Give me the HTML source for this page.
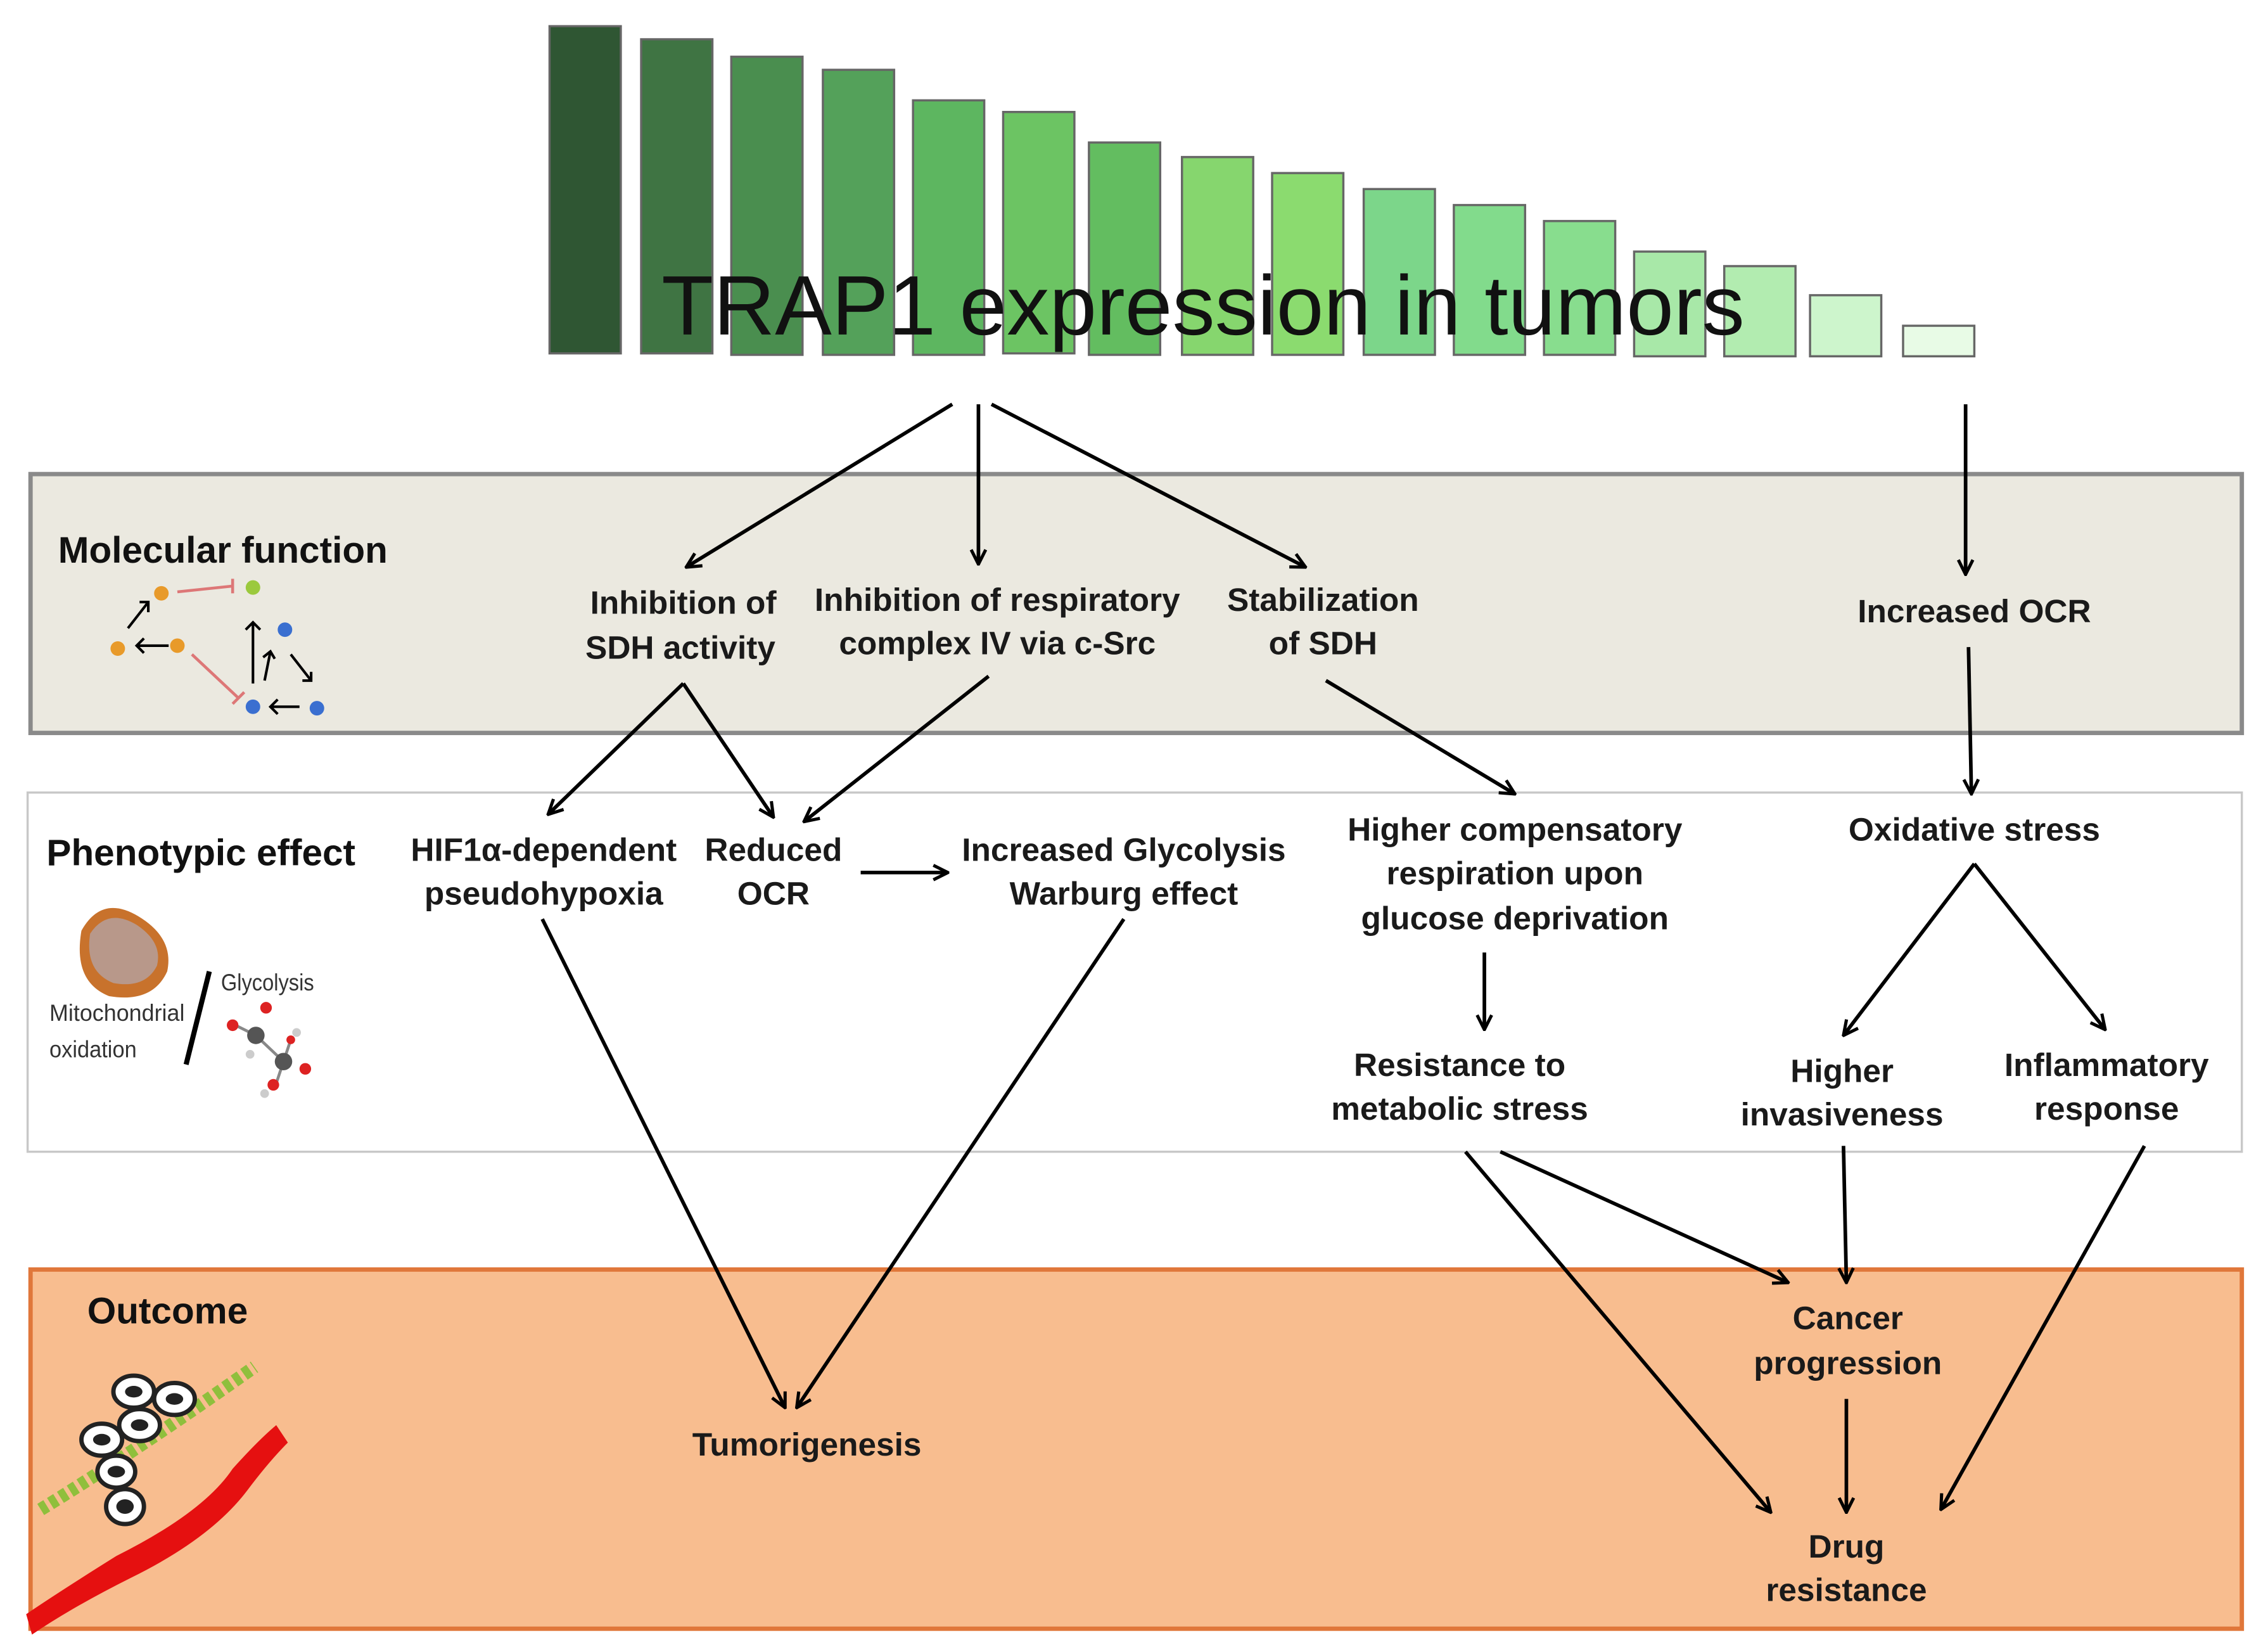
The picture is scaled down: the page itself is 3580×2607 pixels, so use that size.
<!DOCTYPE html>
<html><head><meta charset="utf-8"><style>
html,body{margin:0;padding:0;background:#fff;}
svg{display:block;}
text{font-family:"Liberation Sans",sans-serif;}
.l{font-size:22.4px;font-weight:bold;fill:#1a1a1a;text-anchor:middle;}
.h{font-size:25.5px;font-weight:bold;fill:#111;}
</style></head><body>
<svg width="3580" height="2607" viewBox="0 0 1560 1136" xmlns="http://www.w3.org/2000/svg">
<defs>
<marker id="a" viewBox="0 0 12 12" refX="11" refY="6" markerWidth="12" markerHeight="12" markerUnits="userSpaceOnUse" orient="auto">
<path d="M1,1 L11,6 L1,11" fill="none" stroke="#000" stroke-width="2.2"/>
</marker>
</defs>
<rect width="1560" height="1136" fill="#fff"/>
<g stroke="#666" stroke-width="1.5">
<rect x="378" y="18" width="49" height="225" fill="#2f5633"/>
<rect x="441" y="27" width="49" height="216" fill="#3f7443"/>
<rect x="503" y="39" width="49" height="205" fill="#4a8e4f"/>
<rect x="566" y="48" width="49" height="196" fill="#54a15a"/>
<rect x="628" y="69" width="49" height="175" fill="#5db660"/>
<rect x="690" y="77" width="49" height="166" fill="#6cc463"/>
<rect x="749" y="98" width="49" height="146" fill="#63bd60"/>
<rect x="813" y="108" width="49" height="136" fill="#86d66e"/>
<rect x="875" y="119" width="49" height="125" fill="#8bdb6f"/>
<rect x="938" y="130" width="49" height="114" fill="#7cd68a"/>
<rect x="1000" y="141" width="49" height="103" fill="#82db8c"/>
<rect x="1062" y="152" width="49" height="92" fill="#88dd8e"/>
<rect x="1124" y="173" width="49" height="72" fill="#a8e8a8"/>
<rect x="1186" y="183" width="49" height="62" fill="#b2ecb0"/>
<rect x="1245" y="203" width="49" height="42" fill="#cdf5cc"/>
<rect x="1309" y="224" width="49" height="21" fill="#e8fbe6"/>
</g>
<text x="455" y="230" font-size="58" fill="#111" textLength="745" lengthAdjust="spacingAndGlyphs" style="font-family:'Liberation Sans Narrow','Liberation Sans',sans-serif">TRAP1 expression in tumors</text>

<rect x="21" y="326" width="1521" height="178" fill="#ebe9e0" stroke="#8a8a8a" stroke-width="3"/>
<rect x="19" y="545" width="1523" height="247" fill="#fff" stroke="#c8c8c8" stroke-width="1.5"/>
<rect x="21" y="873" width="1521" height="247" fill="#f8bd8f" stroke="#e0773a" stroke-width="3"/>

<text class="h" x="40" y="387">Molecular function</text>
<text class="h" x="32" y="595">Phenotypic effect</text>
<text class="h" x="60" y="910">Outcome</text>

<g>
<line x1="122" y1="407" x2="160" y2="403" stroke="#d77" stroke-width="2"/><line x1="160" y1="398" x2="160" y2="408" stroke="#d77" stroke-width="2"/>
<line x1="132" y1="450" x2="164" y2="480" stroke="#d77" stroke-width="2"/><line x1="160" y1="484" x2="168" y2="476" stroke="#d77" stroke-width="2"/>
<g stroke="#000" stroke-width="1.8" fill="none">
<path d="M88,432 L102,414 M96,414 L102,414 L102,421"/>
<path d="M116,444 L94,444 M99,439 L94,444 L99,449"/>
<path d="M174,470 L174,428 M169,433 L174,428 L179,433"/>
<path d="M182,468 L186,448 M181,452 L186,448 L189,453"/>
<path d="M200,450 L214,468 M208,468 L214,468 L214,462"/>
<path d="M206,486 L186,486 M191,481 L186,486 L191,491"/>
</g>
<circle cx="111" cy="408" r="5" fill="#e89a2a"/><circle cx="174" cy="404" r="5" fill="#9bc93d"/>
<circle cx="81" cy="446" r="5" fill="#e89a2a"/><circle cx="122" cy="444" r="5" fill="#e89a2a"/>
<circle cx="196" cy="433" r="5" fill="#3a6fd0"/><circle cx="174" cy="486" r="5" fill="#3a6fd0"/><circle cx="218" cy="487" r="5" fill="#3a6fd0"/>
</g>

<g>
<path d="M56,640 Q70,615 95,630 Q120,645 115,668 Q105,690 75,685 Q50,675 56,640Z" fill="#c8722c"/>
<path d="M62,642 Q74,624 94,636 Q112,648 108,664 Q100,680 78,676 Q58,668 62,642Z" fill="#b8988a"/>
<text x="34" y="702" font-size="16" fill="#333" textLength="93" lengthAdjust="spacingAndGlyphs">Mitochondrial</text>
<text x="34" y="727" font-size="16" fill="#333" textLength="60" lengthAdjust="spacingAndGlyphs">oxidation</text>
<line x1="128" y1="732" x2="144" y2="668" stroke="#000" stroke-width="3.5"/>
<text x="152" y="681" font-size="16" fill="#333" textLength="64" lengthAdjust="spacingAndGlyphs">Glycolysis</text>
<g stroke="#888" stroke-width="2"><line x1="176" y1="712" x2="195" y2="730"/><line x1="195" y1="730" x2="200" y2="715"/><line x1="176" y1="712" x2="162" y2="705"/><line x1="195" y1="730" x2="190" y2="745"/></g>
<circle cx="176" cy="712" r="6" fill="#555"/><circle cx="195" cy="730" r="6" fill="#555"/>
<circle cx="160" cy="705" r="4" fill="#d22"/><circle cx="183" cy="693" r="4" fill="#d22"/><circle cx="188" cy="746" r="4" fill="#d22"/><circle cx="210" cy="735" r="4" fill="#d22"/><circle cx="200" cy="715" r="3" fill="#d22"/>
<circle cx="172" cy="725" r="3" fill="#ccc"/><circle cx="204" cy="710" r="3" fill="#ccc"/><circle cx="182" cy="752" r="3" fill="#ccc"/>
</g>

<g>
<path d="M18,1110 Q40,1095 80,1070 Q140,1040 160,1010 Q178,990 190,980 L198,992 Q185,1005 170,1025 Q145,1058 90,1085 Q50,1105 22,1124Z" fill="#e51010"/>
<path d="M28,1038 Q90,1000 175,940" stroke="#8fbf3c" stroke-width="9" stroke-dasharray="5 3" fill="none"/>
<g fill="#fff" stroke="#222" stroke-width="3">
<ellipse cx="92" cy="957" rx="14" ry="11"/><ellipse cx="120" cy="962" rx="14" ry="11"/>
<ellipse cx="70" cy="990" rx="14" ry="11"/><ellipse cx="96" cy="980" rx="14" ry="11"/>
<ellipse cx="80" cy="1012" rx="13" ry="11"/><ellipse cx="86" cy="1036" rx="13" ry="12"/>
</g>
<g fill="#222"><ellipse cx="92" cy="957" rx="6" ry="4"/><ellipse cx="120" cy="962" rx="6" ry="4"/><ellipse cx="70" cy="990" rx="6" ry="4"/><ellipse cx="96" cy="980" rx="6" ry="4"/><ellipse cx="80" cy="1012" rx="6" ry="4"/><ellipse cx="86" cy="1036" rx="6" ry="5"/></g>
</g>

<text class="l" x="470" y="422">Inhibition of</text>
<text class="l" x="468" y="453">SDH activity</text>
<text class="l" x="686" y="420">Inhibition of respiratory</text>
<text class="l" x="686" y="450">complex IV via c-Src</text>
<text class="l" x="910" y="420">Stabilization</text>
<text class="l" x="910" y="450">of SDH</text>
<text class="l" x="1358" y="428">Increased OCR</text>

<text class="l" x="374" y="592">HIF1α-dependent</text>
<text class="l" x="374" y="622">pseudohypoxia</text>
<text class="l" x="532" y="592">Reduced</text>
<text class="l" x="532" y="622">OCR</text>
<text class="l" x="773" y="592">Increased Glycolysis</text>
<text class="l" x="773" y="622">Warburg effect</text>
<text class="l" x="1042" y="578">Higher compensatory</text>
<text class="l" x="1042" y="608">respiration upon</text>
<text class="l" x="1042" y="639">glucose deprivation</text>
<text class="l" x="1358" y="578">Oxidative stress</text>
<text class="l" x="1004" y="740">Resistance to</text>
<text class="l" x="1004" y="770">metabolic stress</text>
<text class="l" x="1267" y="744">Higher</text>
<text class="l" x="1267" y="774">invasiveness</text>
<text class="l" x="1449" y="740">Inflammatory</text>
<text class="l" x="1449" y="770">response</text>

<text class="l" x="555" y="1001">Tumorigenesis</text>
<text class="l" x="1271" y="914">Cancer</text>
<text class="l" x="1271" y="945">progression</text>
<text class="l" x="1270" y="1071">Drug</text>
<text class="l" x="1270" y="1101">resistance</text>

<g stroke="#000" stroke-width="2.5" fill="none" marker-end="url(#a)">
<line x1="655" y1="278" x2="472" y2="390"/>
<line x1="673" y1="278" x2="673" y2="388"/>
<line x1="682" y1="278" x2="898" y2="390"/>
<line x1="1352" y1="278" x2="1352" y2="395"/>
<line x1="1354" y1="445" x2="1356" y2="546"/>
<line x1="470" y1="470" x2="377" y2="560"/>
<line x1="470" y1="470" x2="532" y2="562"/>
<line x1="680" y1="465" x2="553" y2="565"/>
<line x1="912" y1="468" x2="1042" y2="546"/>
<line x1="592" y1="600" x2="652" y2="600"/>
<line x1="373" y1="632" x2="540" y2="968"/>
<line x1="773" y1="632" x2="548" y2="968"/>
<line x1="1021" y1="655" x2="1021" y2="708"/>
<line x1="1358" y1="594" x2="1268" y2="712"/>
<line x1="1358" y1="594" x2="1448" y2="708"/>
<line x1="1008" y1="792" x2="1218" y2="1040"/>
<line x1="1032" y1="792" x2="1230" y2="882"/>
<line x1="1268" y1="788" x2="1270" y2="882"/>
<line x1="1475" y1="788" x2="1335" y2="1038"/>
<line x1="1270" y1="962" x2="1270" y2="1040"/>
</g>
</svg>
</body></html>
